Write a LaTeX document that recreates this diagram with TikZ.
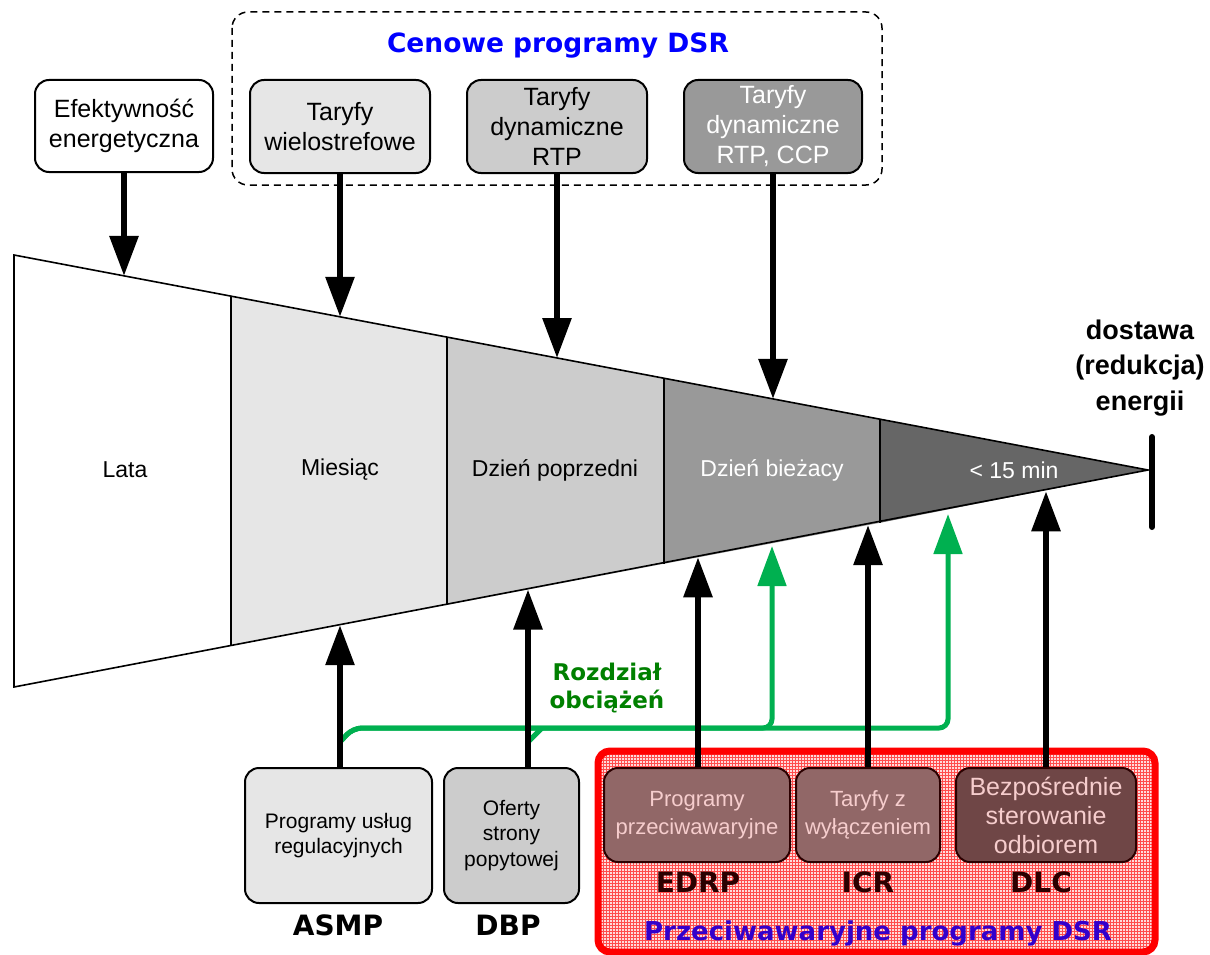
\documentclass[tikz,border=0pt]{standalone}
\usepackage{fontspec}
\setmainfont{Liberation Sans}
\newfontfamily\verd{DejaVu Sans}
\usetikzlibrary{arrows.meta,patterns}
\definecolor{grayA}{HTML}{E6E6E6}
\definecolor{grayB}{HTML}{CCCCCC}
\definecolor{grayC}{HTML}{999999}
\definecolor{grayD}{HTML}{666666}
\definecolor{loadgreen}{HTML}{00B050}
\definecolor{redgray}{HTML}{916767}
\definecolor{reddark}{HTML}{6F4646}
\definecolor{pinktext}{HTML}{F6CDCD}
\definecolor{tagred}{HTML}{2B0000}
\definecolor{violetblue}{HTML}{3300CC}
\begin{document}
\begin{tikzpicture}[x=1pt,y=-1pt]
    \tikzset{
        >={Triangle[length=40pt,width=28pt]},
        progbox/.style={draw,line width=2pt,rounded corners=14pt,align=center,inner sep=0pt,
            font=\fontsize{25}{30}\selectfont},
        smallbox/.style={progbox,font=\fontsize{21}{25.5}\selectfont},
        redbox/.style={progbox,draw=tagred,text=pinktext,font=\fontsize{22}{28}\selectfont},
        bigarrow/.style={->,line width=6pt},
        greenarrow/.style={->,line width=5pt,draw=loadgreen},
        abbr/.style={font=\verd\bfseries\fontsize{28}{32}\selectfont},
    }
    \useasboundingbox (0,0) rectangle (1210,955);

    % horizon wedge
    \fill[white] (14,255) -- (231,296.1) -- (231,645.9) -- (14,687) -- cycle;
    \fill[grayA] (231,296.1) -- (447,337.1) -- (447,604.9) -- (231,645.9) -- cycle;
    \fill[grayB] (447,337.1) -- (664,378.2) -- (664,563.8) -- (447,604.9) -- cycle;
    \fill[grayC] (664,378.2) -- (880,419.2) -- (880,522.8) -- (664,563.8) -- cycle;
    \fill[grayD] (880,419.2) -- (1148,470) -- (880,522.8) -- cycle;
    \draw[line width=1.6pt] (14,255) -- (1148,470) -- (14,687) -- cycle;
    \foreach \xd/\yt/\yb in {231/296.1/645.9,447/337.1/604.9,664/378.2/563.8,880/419.2/522.8}
        \draw[line width=1.6pt] (\xd,\yt) -- (\xd,\yb);
    \draw[line width=6pt,line cap=round] (1152,437) -- (1152,527);

    \node[font=\fontsize{23}{28}\selectfont] (lata) at (125,470) {Lata};
    \node[font=\fontsize{23}{28}\selectfont] (month) at (340,470) {Miesiąc};
    \node[font=\fontsize{23}{28}\selectfont] (dayahead) at (555,470) {Dzień poprzedni};
    \node[font=\fontsize{23}{28}\selectfont,text=white] (intraday) at (772,470) {Dzień bieżacy};
    \node[font=\fontsize{23}{28}\selectfont,text=white] (rt) at (1014,470) {< 15 min};
    \node[font=\bfseries\fontsize{27}{35.5}\selectfont,align=center] (deliv) at (1140,368) {dostawa\\(redukcja)\\energii};

    % price based programs
    \draw[dashed,dash pattern=on 7pt off 5pt,line width=1.5pt,rounded corners=16pt] (232,12) rectangle (882,185);
    \node[font=\verd\bfseries\fontsize{26.5}{30}\selectfont,text=blue] (pricelbl) at (558,46) {Cenowe programy DSR};
    \node[progbox,minimum width=178pt,minimum height=92pt] (effbox) at (124,126) {Efektywność\\energetyczna};
    \node[progbox,fill=grayA,minimum width=180pt,minimum height=93pt] (touBox) at (340,126.5) {Taryfy\\wielostrefowe};
    \node[progbox,fill=grayB,minimum width=180pt,minimum height=93pt] (rtpBox) at (557,126.5) {Taryfy\\dynamiczne\\RTP};
    \node[progbox,fill=grayC,text=white,minimum width=178pt,minimum height=93pt] (cppBox) at (773,126.5) {Taryfy\\dynamiczne\\RTP, CCP};

    \coordinate (d1) at (124,275.9);
    \coordinate (d2) at (340,316.8);
    \coordinate (d3) at (557,358.0);
    \coordinate (d4) at (773,398.9);
    \draw[bigarrow] (effbox.south) -- (d1);
    \draw[bigarrow] (touBox.south) -- (d2);
    \draw[bigarrow] (rtpBox.south) -- (d3);
    \draw[bigarrow] (cppBox.south) -- (d4);

    % emergency programs
    \fill[red!14,rounded corners=12pt] (598,751) rectangle (1155,952);
    \fill[pattern=grid,pattern color=red!70,rounded corners=12pt] (598,751) rectangle (1155,952);
    \node[redbox,fill=redgray,minimum width=186pt,minimum height=94pt] (edrpBox) at (697,815) {Programy\\przeciwawaryjne};
    \node[redbox,fill=redgray,minimum width=144pt,minimum height=94pt] (icrBox) at (868,815) {Taryfy z\\wyłączeniem};
    \node[redbox,fill=reddark,minimum width=180pt,minimum height=94pt,font=\fontsize{25}{29}\selectfont] (dlcBox) at (1046,815) {Bezpośrednie\\sterowanie\\odbiorem};
    \node[abbr,text=tagred] (edrp) at (698,882) {EDRP};
    \node[abbr,text=tagred] (icr) at (868,882) {ICR};
    \node[abbr,text=tagred] (dlc) at (1041,882) {DLC};
    \node[font=\verd\bfseries\fontsize{26}{30}\selectfont,text=violetblue] (emerglbl) at (878,933) {Przeciwawaryjne programy DSR};
    \draw[red,line width=7pt,rounded corners=12pt] (598,751) rectangle (1155,952);

    % market programs
    \node[smallbox,fill=grayA,minimum width=187pt,minimum height=135pt] (asmpBox) at (338.5,835.5) {Programy usług\\regulacyjnych};
    \node[smallbox,fill=grayB,minimum width=135pt,minimum height=135pt] (dbpBox) at (511.5,835.5) {Oferty\\strony\\popytowej};
    \node[abbr] (asmp) at (338,925) {ASMP};
    \node[abbr] (dbp) at (508,925) {DBP};

    % load sharing
    \node[font=\verd\bfseries\fontsize{23}{28.5}\selectfont,text=green!50!black,align=center] (loadlbl) at (607,688) {Rozdział\\obciążeń};
    \coordinate (gs1) at (340,742);
    \coordinate (gs2) at (528,742);
    \coordinate (gb1) at (772,728);
    \coordinate (gb2) at (948,728);
    \coordinate (g1) at (772,546);
    \coordinate (g2) at (948,514);
    \draw[greenarrow,rounded corners=9pt] (gs1) -- ++(13,-14) -- (gb2) -- (g2);
    \draw[greenarrow,rounded corners=9pt] (gs1) -- ++(13,-14) -- (gb1) -- (g1);
    \draw[line width=5pt,loadgreen] (gs2) -- ++(14,-14);

    \coordinate (u1) at (340,625.2);
    \coordinate (u2) at (528,589.5);
    \coordinate (u3) at (698,557.3);
    \coordinate (u4) at (868,525.1);
    \coordinate (u5) at (1046,491.3);
    \draw[bigarrow] (asmpBox.north -| u1) -- (u1);
    \draw[bigarrow] (dbpBox.north -| u2) -- (u2);
    \draw[bigarrow] (edrpBox.north -| u3) -- (u3);
    \draw[bigarrow] (icrBox.north -| u4) -- (u4);
    \draw[bigarrow] (dlcBox.north -| u5) -- (u5);
\end{tikzpicture}
\end{document}
